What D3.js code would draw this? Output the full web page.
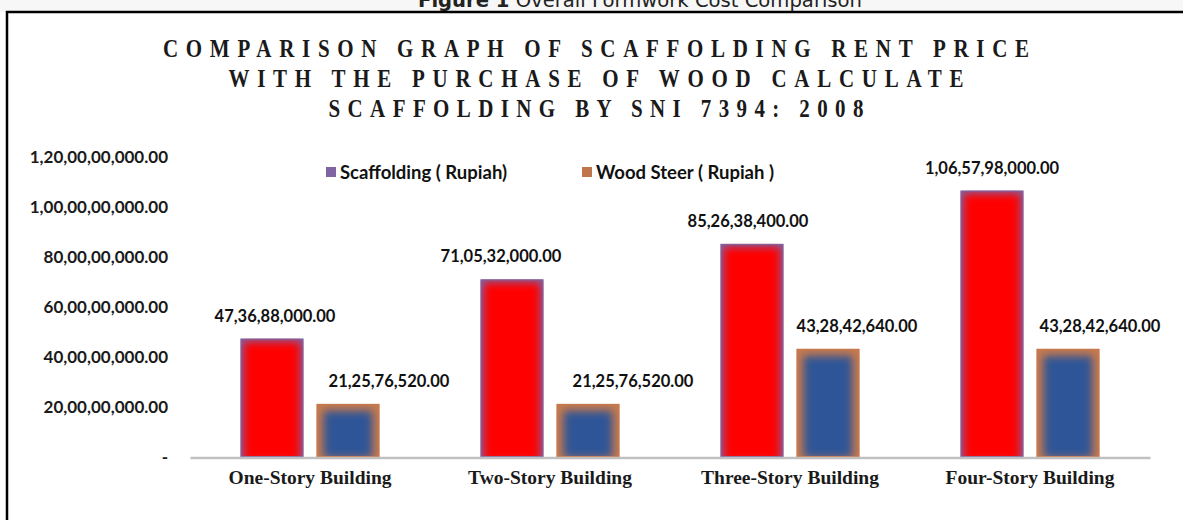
<!DOCTYPE html>
<html>
<head>
<meta charset="utf-8">
<script src="https://cdn.jsdelivr.net/npm/d3@7"></script>
<style>
  body { margin: 0; background: #ffffff; }
  svg { display: block; }
</style>
</head>
<body>
<script>
// ==========================================
// 1. DATA
// ==========================================

const categories = ["One-Story Building", "Two-Story Building", "Three-Story Building", "Four-Story Building"];
const seriesNames = ["Scaffolding ( Rupiah)", "Wood Steer ( Rupiah )"];
const scaffoldingValues = [473688000, 710532000, 852638400, 1065798000];
const woodValues = [212576520, 212576520, 432842640, 432842640];
const yTickValues = [0, 200000000, 400000000, 600000000, 800000000, 1000000000, 1200000000];
const titleLines = [
    "COMPARISON GRAPH OF SCAFFOLDING RENT PRICE",
    "WITH THE PURCHASE OF WOOD CALCULATE",
    "SCAFFOLDING BY SNI 7394: 2008"
];
const captionBold = "Figure 1";
const captionRest = " Overall Formwork Cost Comparison";

// ==========================================
// 2. LAYOUT & STYLE
// ==========================================

const W = 1183, H = 520;
const plot = {left: 190, right: 1150, top: 157, bottom: 457};

// look of each series: centre colour, edge colour, how far the edge glow reaches
const seriesStyle = [
    {center: "#ff0000", edge: "#8064a2", inset: 3, legend: "#8064a2"},
    {center: "#2f5597", edge: "#c87a4c", inset: 7, legend: "#c0754c"}
];

// the data labels were dragged by hand in the original, so nudge them a bit
const labelNudge = [[3, -11, -4, 0], [41, 45, 29, 32]];
const titleWidths = [866, 735, 535];
const titleSqueeze = 0.84; // the title face is narrow and tall

const svg = d3.select("body").append("svg")
    .attr("width", W)
    .attr("height", H);

const defs = svg.append("defs");
defs.append("filter")
    .attr("id", "soft")
    .attr("x", "-50%").attr("y", "-50%")
    .attr("width", "200%").attr("height", "200%")
    .append("feGaussianBlur")
    .attr("stdDeviation", 4);

// page strip with the figure caption, cut off at the top as in the scan
svg.append("rect").attr("width", W).attr("height", 12).attr("fill", "#f6f7f6");
const caption = svg.append("text")
    .attr("x", 640).attr("y", 7)
    .attr("text-anchor", "middle")
    .attr("font-family", "'DejaVu Sans', sans-serif")
    .attr("font-size", 20)
    .attr("fill", "#222")
    .attr("textLength", 444)
    .attr("lengthAdjust", "spacingAndGlyphs");
caption.append("tspan").attr("font-weight", "bold").text(captionBold);
caption.append("tspan").text(captionRest);

// chart frame
svg.append("rect").attr("x", 7).attr("y", 12).attr("width", W).attr("height", H).attr("fill", "#fff");
svg.append("line").attr("x1", 6).attr("x2", W).attr("y1", 12).attr("y2", 12)
    .attr("stroke", "#000").attr("stroke-width", 2.5);
svg.append("line").attr("x1", 7).attr("x2", 7).attr("y1", 11).attr("y2", H)
    .attr("stroke", "#000").attr("stroke-width", 2.5);

// title
svg.append("g")
    .attr("transform", `translate(596,0) scale(${titleSqueeze},1)`)
    .selectAll("text")
    .data(titleLines)
    .join("text")
    .attr("x", 0)
    .attr("y", (d, i) => 57 + i * 30)
    .attr("text-anchor", "middle")
    .attr("font-family", "'Liberation Serif', 'Times New Roman', serif")
    .attr("font-weight", "bold")
    .attr("font-size", 25)
    .attr("fill", "#1a1a1a")
    .attr("textLength", (d, i) => titleWidths[i] / titleSqueeze)
    .attr("lengthAdjust", "spacing")
    .text(d => d);

// ==========================================
// 3. SCALES & AXES
// ==========================================

const xScale = d3.scaleBand().domain(categories).range([plot.left, plot.right]);
const xInner = d3.scaleBand().domain([0, 1])
    .range([0, xScale.bandwidth()])
    .paddingInner(0.171)
    .paddingOuter(0.664);
const yScale = d3.scaleLinear().domain([0, 1200000000]).range([plot.bottom, plot.top]);

// Indian digit grouping, with a dash for zero like the accounting format
function indianFormat(v) {
    if (v === 0) return "-";
    const s = Math.round(v).toString();
    const last3 = s.slice(-3);
    let rest = s.slice(0, -3);
    const parts = [];
    while (rest.length > 2) {
        parts.unshift(rest.slice(-2));
        rest = rest.slice(0, -2);
    }
    if (rest.length) parts.unshift(rest);
    return (parts.length ? parts.join(",") + "," : "") + last3 + ".00";
}

const yAxis = d3.axisLeft(yScale)
    .tickValues(yTickValues)
    .tickFormat(indianFormat)
    .tickSize(0)
    .tickPadding(22);

const yAxisGroup = svg.append("g")
    .attr("transform", `translate(${plot.left},0)`)
    .call(yAxis);
yAxisGroup.select(".domain").remove();
yAxisGroup.selectAll("text")
    .attr("font-family", "Lato, sans-serif")
    .attr("font-weight", "bold")
    .attr("font-size", 17)
    .attr("fill", "#1a1a1a");

// ==========================================
// 4. BARS
// ==========================================

const bars = [];
categories.forEach((c, i) => {
    [scaffoldingValues[i], woodValues[i]].forEach((v, s) => {
        bars.push({cat: c, ci: i, s: s, value: v});
    });
});

bars.forEach((d, k) => {
    d.x = xScale(d.cat) + xInner(d.s);
    d.w = xInner.bandwidth();
    d.y = yScale(d.value);
    d.h = yScale(0) - d.y;
    d.id = "bar-clip-" + k;
});

defs.selectAll("clipPath.bar")
    .data(bars)
    .join("clipPath")
    .attr("class", "bar")
    .attr("id", d => d.id)
    .append("rect")
    .attr("x", d => d.x).attr("y", d => d.y)
    .attr("width", d => d.w).attr("height", d => d.h);

const barGroups = svg.append("g").selectAll("g")
    .data(bars)
    .join("g")
    .attr("clip-path", d => `url(#${d.id})`);

barGroups.append("rect")
    .attr("x", d => d.x).attr("y", d => d.y)
    .attr("width", d => d.w).attr("height", d => d.h)
    .attr("fill", d => seriesStyle[d.s].edge);

barGroups.append("rect")
    .attr("x", d => d.x + seriesStyle[d.s].inset)
    .attr("y", d => d.y + seriesStyle[d.s].inset)
    .attr("width", d => d.w - 2 * seriesStyle[d.s].inset)
    .attr("height", d => d.h - 2 * seriesStyle[d.s].inset + 8)
    .attr("fill", d => seriesStyle[d.s].center)
    .attr("filter", "url(#soft)");

svg.append("g").selectAll("rect")
    .data(bars)
    .join("rect")
    .attr("x", d => d.x + 0.5).attr("y", d => d.y + 0.5)
    .attr("width", d => d.w - 1).attr("height", d => d.h - 1)
    .attr("fill", "none")
    .attr("stroke", d => seriesStyle[d.s].edge)
    .attr("stroke-width", 1);

// data labels
svg.append("g").selectAll("text")
    .data(bars)
    .join("text")
    .attr("x", d => d.x + d.w / 2 + labelNudge[d.s][d.ci])
    .attr("y", d => d.y - 17)
    .attr("text-anchor", "middle")
    .attr("font-family", "Lato, sans-serif")
    .attr("font-weight", "bold")
    .attr("font-size", 16.5)
    .attr("fill", "#111")
    .text(d => indianFormat(d.value));

// x axis (grey base line) drawn after the bars
const xAxis = d3.axisBottom(xScale).tickSize(0).tickPadding(13);
const xAxisGroup = svg.append("g")
    .attr("transform", `translate(0,${plot.bottom + 0.5})`)
    .call(xAxis);
xAxisGroup.select(".domain")
    .attr("stroke", "#c0c0c0")
    .attr("stroke-width", 2.5);
xAxisGroup.selectAll("text")
    .attr("font-family", "'Liberation Serif', 'Times New Roman', serif")
    .attr("font-weight", "bold")
    .attr("font-size", 19.5)
    .attr("fill", "#1a1a1a");

// ==========================================
// 5. LEGEND
// ==========================================

const legendX = [326, 582];
const legend = svg.append("g").selectAll("g")
    .data(seriesNames)
    .join("g")
    .attr("transform", (d, i) => `translate(${legendX[i]},172)`);
legend.append("rect")
    .attr("x", 0).attr("y", -5)
    .attr("width", 10).attr("height", 10)
    .attr("fill", (d, i) => seriesStyle[i].legend);
legend.append("text")
    .attr("x", 14).attr("y", 6.5)
    .attr("font-family", "Lato, sans-serif")
    .attr("font-weight", "bold")
    .attr("font-size", 18.5)
    .attr("fill", "#111")
    .text(d => d);
</script>
</body>
</html>
